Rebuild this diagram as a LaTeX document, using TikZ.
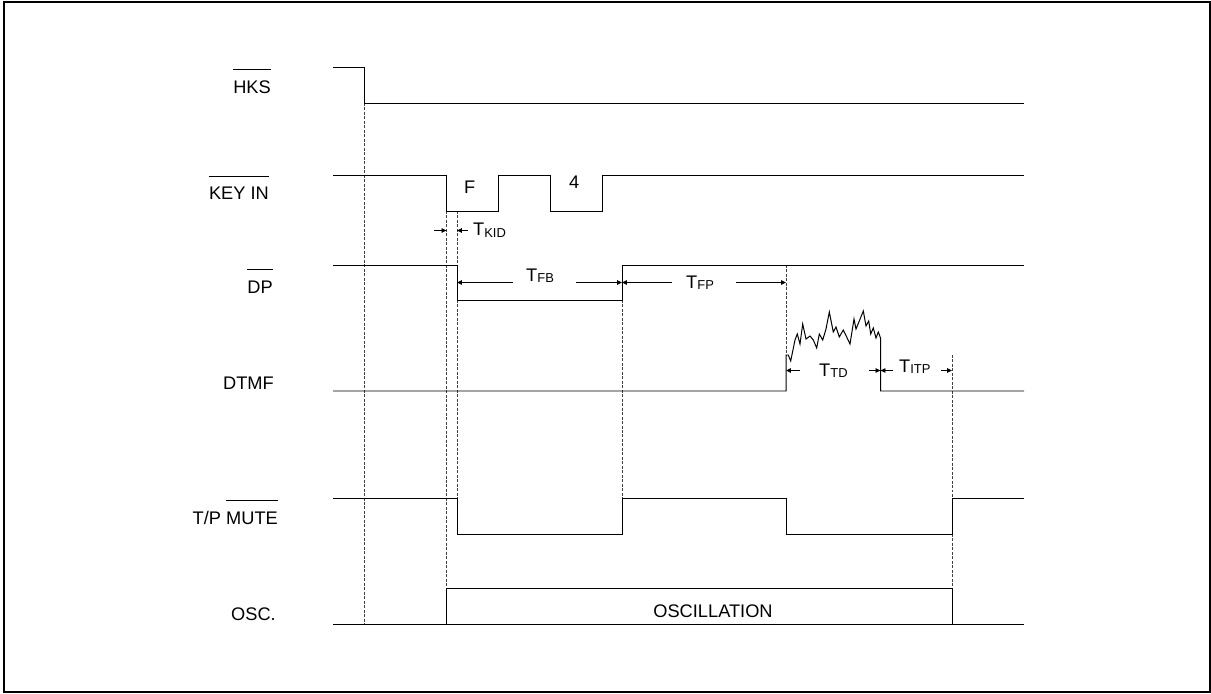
\documentclass[tikz,border=0pt]{standalone}
\usepackage{fontspec}
\setmainfont{Liberation Sans}
\usetikzlibrary{arrows.meta}
\newcommand\myovl[1]{\setbox0\hbox{#1}\rlap{\raisebox{\dimexpr\ht0+11pt\relax}{\rule{\wd0}{0.9pt}}}\box0}
\newcommand\Tsub[1]{T\raisebox{-1.5pt}{\fontsize{13}{13}\selectfont #1}}
\begin{document}
\begin{tikzpicture}[x=1bp,y=-1bp,
  sig/.style={line width=1pt, line join=miter},
  guide/.style={line width=0.6pt, dash pattern=on 3pt off 1.5pt, black!75},
  dim/.style={line width=0.9pt, -{Triangle[length=5pt,width=4.5pt]}},
  lab/.style={font=\fontsize{18.3}{19}\selectfont, inner sep=0pt, anchor=base east},
  txt/.style={font=\fontsize{18.3}{19}\selectfont, inner sep=0pt, anchor=base west}]
\useasboundingbox (0,0) rectangle (1211,694);
\draw[line width=2pt] (4,2) rectangle (1210,692);

% signal names
\node[lab] (nHKS) at (271,94) {\myovl{HKS}};
\node[lab] (nKEY) at (269,200) {\myovl{KEY IN}};
\node[lab] (nDP) at (273,293) {\myovl{DP}};
\node[lab] (nDTMF) at (274,389) {DTMF};
\node[lab] (nTP) at (278,524) {T/P \myovl{MUTE}};
\node[lab] (nOSC) at (276,620) {OSC.};

% guides
\draw[guide] (364,103) -- (364,624);
\draw[guide] (446.5,211) -- (446.5,588);
\draw[guide] (457,211) -- (457,265);
\draw[guide] (457,300) -- (457,498);
\draw[guide] (622,300) -- (622,498);
\draw[guide] (786,265) -- (786,355);
\draw[guide] (952,355) -- (952,498);
\draw[guide] (952,534) -- (952,588);

% HKS
\draw[sig] (333,67.5) -- (364,67.5) -- (364,103) -- (1024,103);
% KEY IN
\draw[sig] (333,175) -- (446.5,175) -- (446.5,211) -- (498.5,211) -- (498.5,175)
  -- (550,175) -- (550,211) -- (602,211) -- (602,175) -- (1024,175);
% DP
\draw[sig] (333,265) -- (457,265) -- (457,300) -- (622,300) -- (622,265) -- (1024,265);
% DTMF
\draw[sig] (333,391) -- (786,391) -- (786,355) -- (788.3,355) -- (790.7,361) -- (795,340)
  -- (797.3,334) -- (800,344) -- (802.7,324) -- (806,339) -- (810,336)
  -- (813.3,340) -- (816.7,348) -- (819.3,334) -- (822.7,340) -- (826,329)
  -- (829.3,312) -- (833.3,332) -- (836,327) -- (839.3,337) -- (843.3,330)
  -- (846.7,337) -- (850,344) -- (854,319) -- (856,329) -- (859.3,321)
  -- (863.3,311) -- (866,326) -- (868.7,321) -- (870.7,334) -- (873.3,328)
  -- (876,338) -- (878.3,332) -- (880.5,338) -- (880.5,391) -- (1024,391);
% T/P MUTE
\draw[sig] (333,498) -- (457,498) -- (457,534) -- (622,534) -- (622,498) -- (786,498)
  -- (786,534) -- (952,534) -- (952,498) -- (1024,498);
% OSC
\draw[sig] (333,624) -- (1024,624);
\draw[sig] (446.5,624) -- (446.5,588) -- (952,588) -- (952,624);

% key labels
\node[txt] (kF) at (464,194) {F};
\node[txt] (k4) at (569,189) {4};
\node[txt, anchor=base] (osc) at (713,617) {OSCILLATION};

% timing dimensions
\coordinate (kidA) at (434,230.5);
\coordinate (kidB) at (446.5,230.5);
\coordinate (kidC) at (468,230.5);
\coordinate (kidD) at (457,230.5);
\draw[dim] (kidA) -- (kidB);
\draw[dim] (kidC) -- (kidD);
\node[txt] (tkid) at (473,236) {\Tsub{KID}};

\coordinate (fbA) at (513,282.5);
\coordinate (fbB) at (457,282.5);
\coordinate (fbC) at (576,282.5);
\coordinate (fbD) at (622,282.5);
\draw[dim] (fbA) -- (fbB);
\draw[dim] (fbC) -- (fbD);
\node[txt] (tfb) at (526,281) {\Tsub{FB}};

\coordinate (fpA) at (672,282.5);
\coordinate (fpB) at (622,282.5);
\coordinate (fpC) at (736,282.5);
\coordinate (fpD) at (786,282.5);
\draw[dim] (fpA) -- (fpB);
\draw[dim] (fpC) -- (fpD);
\node[txt] (tfp) at (686,288) {\Tsub{FP}};

\coordinate (tdA) at (800,370.5);
\coordinate (tdB) at (786,370.5);
\coordinate (tdC) at (869,370.5);
\coordinate (tdD) at (880.5,370.5);
\draw[dim] (tdA) -- (tdB);
\draw[dim] (tdC) -- (tdD);
\node[txt] (ttd) at (819,376) {\Tsub{TD}};

\coordinate (itA) at (893,370.5);
\coordinate (itB) at (880.5,370.5);
\coordinate (itC) at (941,370.5);
\coordinate (itD) at (952,370.5);
\draw[dim] (itA) -- (itB);
\draw[dim] (itC) -- (itD);
\node[txt] (titp) at (899,372) {\Tsub{ITP}};
\end{tikzpicture}
\end{document}
